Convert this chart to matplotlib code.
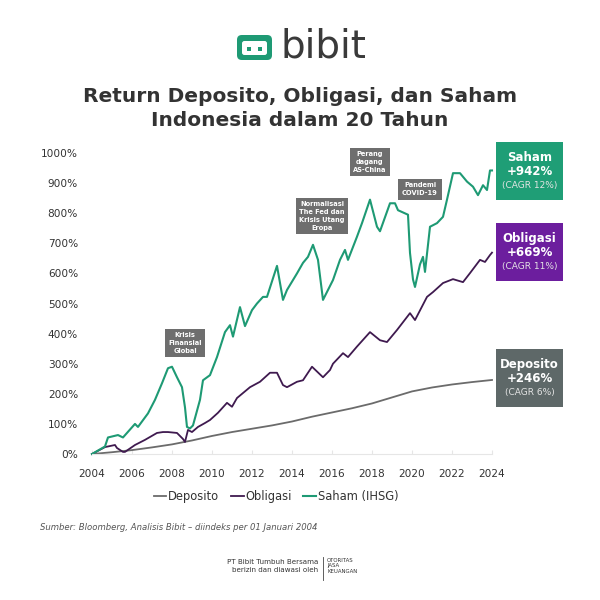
import matplotlib
matplotlib.use("Agg")
import matplotlib.pyplot as plt
from matplotlib.patches import FancyBboxPatch

plt.rcParams['font.family'] = ['DejaVu Sans']

# data (year, % return indexed to Jan 2004)
saham_years = [2004.0, 2004.65, 2004.8, 2005.3, 2005.55, 2006.15, 2006.3, 2006.8, 2007.15, 2007.5,
               2007.8, 2008.0, 2008.25, 2008.5, 2008.65, 2008.75, 2008.9, 2009.05, 2009.4, 2009.55,
               2009.9, 2010.25, 2010.65, 2010.9, 2011.05, 2011.4, 2011.65, 2012.0, 2012.25, 2012.55,
               2012.75, 2013.25, 2013.55, 2013.75, 2014.05, 2014.25, 2014.55, 2014.8, 2015.05, 2015.3,
               2015.55, 2016.05, 2016.4, 2016.65, 2016.8, 2017.25, 2017.5, 2017.9, 2018.25, 2018.4,
               2018.9, 2019.15, 2019.3, 2019.8, 2019.9, 2020.05, 2020.15, 2020.4, 2020.55, 2020.65,
               2020.9, 2021.25, 2021.55, 2021.75, 2022.05, 2022.4, 2022.75, 2023.05, 2023.3, 2023.55,
               2023.75, 2023.9, 2024.0]
saham = [0, 25, 55, 63, 55, 100, 90, 135, 180, 235,
         285, 290, 255, 222, 155, 90, 85, 95, 180, 245,
         262, 322, 405, 428, 390, 488, 425, 478, 500, 522,
         522, 625, 512, 545, 578, 600, 635, 655, 695, 645,
         512, 578, 645, 678, 645, 722, 767, 845, 755, 740,
         833, 833, 810, 795, 668, 580, 555, 630, 655, 605,
         755, 767, 788, 845, 933, 933, 905, 888, 860, 893,
         877, 942, 942]

obligasi_years = [2004.0, 2004.65, 2005.15, 2005.25, 2005.55, 2005.65, 2006.15, 2006.65, 2007.25, 2007.55,
                  2007.8, 2008.25, 2008.55, 2008.65, 2008.8, 2009.0, 2009.3, 2009.65, 2009.9, 2010.3,
                  2010.75, 2011.0, 2011.25, 2011.9, 2012.4, 2012.9, 2013.25, 2013.55, 2013.75, 2014.25,
                  2014.55, 2015.0, 2015.55, 2015.9, 2016.05, 2016.55, 2016.8, 2017.25, 2017.9, 2018.4,
                  2018.75, 2019.25, 2019.9, 2020.15, 2020.75, 2021.05, 2021.55, 2022.05, 2022.55, 2022.9,
                  2023.4, 2023.65, 2023.9, 2024.0]
obligasi = [0, 23, 30, 20, 7, 7, 30, 47, 70, 73,
            73, 70, 50, 40, 80, 73, 90, 103, 113, 137,
            170, 157, 186, 222, 240, 270, 270, 229, 222, 240,
            245, 290, 255, 279, 300, 335, 322, 357, 405, 378,
            372, 412, 468, 445, 522, 538, 568, 581, 571, 601,
            645, 638, 661, 669]

deposito_years = list(range(2004, 2025))
deposito = [0, 6, 13, 22, 32, 45, 60, 73, 84, 95, 108, 124, 138, 152, 168, 188, 208, 221, 231, 239, 246]

events = ["Krisis\nFinansial\nGlobal", "Normalisasi\nThe Fed dan\nKrisis Utang\nEropa",
          "Perang\ndagang\nAS-China", "Pandemi\nCOVID-19"]
event_xy = [(2008.65, 369), (2015.5, 791), (2017.9, 970), (2020.4, 880)]

summary_titles = ["Saham", "Obligasi", "Deposito"]
summary_returns = ["+942%", "+669%", "+246%"]
summary_cagr = ["(CAGR 12%)", "(CAGR 11%)", "(CAGR 6%)"]

c_dep = "#6b6b6b"
c_obl = "#3f1a4f"
c_sah = "#1e9a74"
box_colors = ["#1f9e76", "#6c1e9e", "#5e6868"]

fig = plt.figure(figsize=(6, 6), dpi=100)
ax = fig.add_axes([0.1533, 0.2433, 0.6667, 0.5017])

ax.plot(deposito_years, deposito, color=c_dep, lw=1.3, label="Deposito", clip_on=False)
ax.plot(obligasi_years, obligasi, color=c_obl, lw=1.3, label="Obligasi", clip_on=False)
ax.plot(saham_years, saham, color=c_sah, lw=1.5, label="Saham (IHSG)", clip_on=False)

ax.set_xlim(2004, 2024)
ax.set_ylim(0, 1000)
ax.set_xticks(range(2004, 2025, 2))
ax.set_yticks(range(0, 1001, 100))
ax.set_yticklabels([f"{v}%" for v in range(0, 1001, 100)])
for s in ["top", "right", "left"]:
    ax.spines[s].set_visible(False)
ax.spines["bottom"].set_color("#e6e6e6")
ax.tick_params(axis="y", length=0, pad=10, labelsize=7.6, labelcolor="#333333")
ax.tick_params(axis="x", direction="in", length=3, color="#e6e6e6", pad=11, labelsize=7.6,
               labelcolor="#333333")

for txt, (x, y) in zip(events, event_xy):
    ax.text(x, y, txt, ha="center", va="center", fontsize=4.8, color="white", fontweight="bold",
            linespacing=1.35,
            bbox=dict(boxstyle="square,pad=0.55", fc="#6e6e6e", ec="none"))

# summary boxes at the right
box_tops = [0.7633, 0.6283, 0.4183]
for title, ret, cagr, col, top in zip(summary_titles, summary_returns, summary_cagr, box_colors, box_tops):
    fig.patches.append(FancyBboxPatch((0.8267, top - 0.0967), 0.1117, 0.0967, boxstyle="square,pad=0",
                                      transform=fig.transFigure, fc=col, ec="none"))
    xc = 0.8267 + 0.1117 / 2
    fig.text(xc, top - 0.025, title, ha="center", va="center", color="white", fontsize=8.5, fontweight="bold")
    fig.text(xc, top - 0.049, ret, ha="center", va="center", color="white", fontsize=8.5, fontweight="bold")
    fig.text(xc, top - 0.073, cagr, ha="center", va="center", color="#e4e4e4", fontsize=6.5)

ax.legend(loc="center", bbox_to_anchor=(0.46, 0.172), bbox_transform=fig.transFigure, ncol=3,
          frameon=False, handlelength=1.1, handletextpad=0.15, columnspacing=1.0, fontsize=8.3,
          labelcolor="#333333")

# title and logo
fig.text(0.5, 1 - 97 / 600, "Return Deposito, Obligasi, dan Saham", ha="center", va="center",
         fontsize=14.5, fontweight="bold", color="#333333")
fig.text(0.5, 1 - 120 / 600, "Indonesia dalam 20 Tahun", ha="center", va="center",
         fontsize=14.5, fontweight="bold", color="#333333")

fig.patches.append(FancyBboxPatch((237 / 600, 1 - 60 / 600), 35 / 600, 25 / 600,
                                  boxstyle="round,pad=0,rounding_size=0.008",
                                  transform=fig.transFigure, fc=c_sah, ec="none"))
fig.patches.append(FancyBboxPatch((242 / 600, 1 - 55 / 600), 25 / 600, 14 / 600,
                                  boxstyle="round,pad=0,rounding_size=0.004",
                                  transform=fig.transFigure, fc="white", ec="none"))
for xx in (247, 258):
    fig.patches.append(FancyBboxPatch((xx / 600, 1 - 51 / 600), 4 / 600, 4 / 600, boxstyle="square,pad=0",
                                      transform=fig.transFigure, fc=c_sah, ec="none"))
fig.text(281 / 600, 1 - 47 / 600, "bibit", ha="left", va="center", fontsize=28, color="#3a3a3a")

fig.text(40 / 600, 1 - 528 / 600, "Sumber: Bloomberg, Analisis Bibit \u2013 diindeks per 01 Januari 2004",
         ha="left", va="center", fontsize=6.1, style="italic", color="#555555")

fig.text(318 / 600, 1 - 566 / 600, "PT Bibit Tumbuh Bersama\nberizin dan diawasi oleh", ha="right",
         va="center", fontsize=5.1, color="#333333", linespacing=1.2)
fig.add_artist(plt.Line2D([323 / 600, 323 / 600], [1 - 557 / 600, 1 - 580 / 600], color="#444444", lw=0.6))
fig.text(327 / 600, 1 - 566 / 600, "OTORITAS\nJASA\nKEUANGAN", ha="left", va="center", fontsize=3.9,
         color="#333333", linespacing=1.1)

fig.savefig("out.png", dpi=100, facecolor="white")
